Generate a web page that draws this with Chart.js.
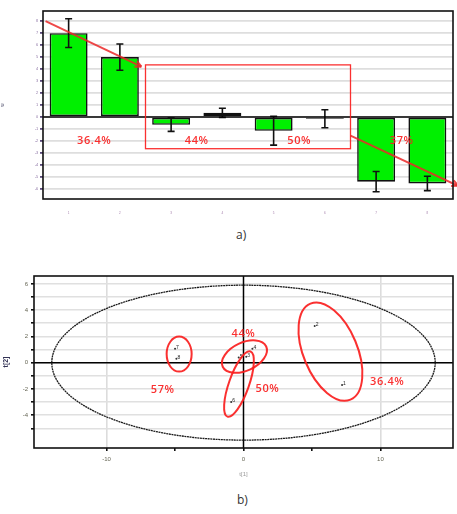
<!DOCTYPE html>
<html>
<head>
<meta charset="utf-8">
<script src="https://cdn.jsdelivr.net/npm/chart.js@4.4.1/dist/chart.umd.min.js"></script>
<style>
  html, body { margin: 0; padding: 0; background: #fff; }
  body { width: 457px; height: 514px; position: relative; overflow: hidden; font-family: "Open Sans", "DejaVu Sans", sans-serif; }
  .box { position: absolute; left: 0; }
  .cap { position: absolute; font-size: 12px; color: #333; }
</style>
</head>
<body>
<div class="box" style="top:0;width:457px;height:215px;"><canvas id="bars"></canvas></div>
<div class="cap" style="left:236px;top:226px;">a)</div>
<div class="box" style="top:260px;width:457px;height:222px;"><canvas id="scores"></canvas></div>
<div class="cap" style="left:237px;top:491px;">b)</div>
<script>
// ---- a) loadings per sample ----
const sampleLabels = ['1', '2', '3', '4', '5', '6', '7', '8'];
const loadingValues = [7.0, 5.0, -0.65, 0.35, -1.15, -0.15, -5.4, -5.55];
const loadingErrors = [1.2, 1.1, 0.55, 0.38, 1.2, 0.75, 0.85, 0.6];
const groupLabels = ['36.4%', '44%', '50%', '37%'];
const groupLabelX = [0.5, 2.5, 4.5, 6.5];
const groupLabelY = -2.0;
// trend arrows (category index, value)
const trendSegments = [
  [[-0.45, 8.0], [1.42, 4.2]],
  [[5.5, -1.55], [7.6, -5.75]]
];
// highlighted middle block (category index range, value range)
const boxRange = { x0: 1.5, x1: 5.5, y0: -2.65, y1: 4.35 };

// ---- b) score plot ----
const scoreGroups = ['36.4%', '44%', '50%', '57%'];
const scoreIds = ['1', '2', '3', '4', '5', '6', '7', '8'];
const scoreT1 = [7.2, 5.2, 0.2, 0.65, -0.35, -0.9, -5.0, -4.9];
const scoreT2 = [-1.7, 2.8, 0.45, 1.05, 0.4, -3.0, 1.05, 0.3];
const hotellingRadii = [14.0, 5.9];
// group ellipses: centre (t1, t2)
const groupCentreT1 = [6.35, 0.07, -0.33, -4.7];
const groupCentreT2 = [0.84, 0.46, -1.63, 0.65];
const groupTextT1 = [10.5, 0.0, 1.75, -5.9];
const groupTextT2 = [-1.45, 2.2, -2.0, -2.1];

const RED = 'rgba(250,30,30,0.92)';
const LABEL_FONT = '600 11px "Open Sans", sans-serif';

function drawLabel(ctx, text, px, py) {
  ctx.save();
  ctx.fillStyle = RED;
  ctx.font = LABEL_FONT;
  ctx.letterSpacing = '0.6px';
  ctx.textAlign = 'center';
  ctx.textBaseline = 'middle';
  ctx.fillText(text, px, py);
  ctx.restore();
}

function drawArrow(ctx, x0, y0, x1, y1) {
  ctx.beginPath();
  ctx.moveTo(x0, y0);
  ctx.lineTo(x1, y1);
  ctx.stroke();
  const a = Math.atan2(y1 - y0, x1 - x0);
  const L = 7;
  ctx.beginPath();
  ctx.moveTo(x1, y1);
  ctx.lineTo(x1 - L * Math.cos(a - 0.45), y1 - L * Math.sin(a - 0.45));
  ctx.moveTo(x1, y1);
  ctx.lineTo(x1 - L * Math.cos(a + 0.45), y1 - L * Math.sin(a + 0.45));
  ctx.stroke();
}

const barOverlay = {
  id: 'barOverlay',
  afterDatasetsDraw(chart) {
    const { ctx, scales: { x, y }, chartArea } = chart;
    ctx.save();
    // error bars
    ctx.strokeStyle = '#111';
    ctx.lineWidth = 1.6;
    loadingValues.forEach((v, i) => {
      const px = x.getPixelForValue(i);
      const yt = y.getPixelForValue(v + loadingErrors[i]);
      const yb = y.getPixelForValue(v - loadingErrors[i]);
      ctx.beginPath();
      ctx.moveTo(px, yt); ctx.lineTo(px, yb);
      ctx.moveTo(px - 3.5, yt); ctx.lineTo(px + 3.5, yt);
      ctx.moveTo(px - 3.5, yb); ctx.lineTo(px + 3.5, yb);
      ctx.stroke();
    });
    // zero line
    ctx.strokeStyle = '#000';
    ctx.lineWidth = 1.5;
    const y0 = y.getPixelForValue(0);
    ctx.beginPath(); ctx.moveTo(chartArea.left, y0); ctx.lineTo(chartArea.right, y0); ctx.stroke();
    // box
    ctx.strokeStyle = RED;
    ctx.lineWidth = 1.3;
    const bx0 = x.getPixelForValue(boxRange.x0), bx1 = x.getPixelForValue(boxRange.x1);
    const by0 = y.getPixelForValue(boxRange.y1), by1 = y.getPixelForValue(boxRange.y0);
    ctx.strokeRect(bx0, by0, bx1 - bx0, by1 - by0);
    // trend arrows
    ctx.lineWidth = 2;
    ctx.strokeStyle = 'rgba(235,40,40,0.85)';
    trendSegments.forEach(s => {
      drawArrow(ctx, x.getPixelForValue(s[0][0]), y.getPixelForValue(s[0][1]),
                     x.getPixelForValue(s[1][0]), y.getPixelForValue(s[1][1]));
    });
    // group labels
    groupLabels.forEach((t, i) => {
      drawLabel(ctx, t, x.getPixelForValue(groupLabelX[i]), y.getPixelForValue(groupLabelY));
    });
    // plot frame
    ctx.strokeStyle = '#111';
    ctx.lineWidth = 1.6;
    ctx.strokeRect(chartArea.left, chartArea.top, chartArea.right - chartArea.left, chartArea.bottom - chartArea.top);
    ctx.restore();
  }
};

new Chart(document.getElementById('bars'), {
  type: 'bar',
  data: {
    labels: sampleLabels,
    datasets: [{
      data: loadingValues,
      backgroundColor: '#00f000',
      borderColor: '#111',
      borderWidth: 1.6,
      borderSkipped: false,
      barPercentage: 0.74,
      categoryPercentage: 1.0
    }]
  },
  options: {
    responsive: true,
    maintainAspectRatio: false,
    animation: false,
    layout: { padding: { top: 11, right: 4, left: 0, bottom: 0 } },
    plugins: { legend: { display: false }, tooltip: { enabled: false } },
    scales: {
      x: {
        grid: { display: false },
        border: { display: false },
        ticks: { color: '#a07aa8', font: { size: 3 }, padding: 4 },
        afterFit(s) { s.height = 16; }
      },
      y: {
        min: -6.85,
        max: 8.85,
        afterBuildTicks(s) { s.ticks = s.ticks.filter(t => Number.isInteger(t.value)); },
        ticks: { stepSize: 1, color: '#6a4a8a', font: { size: 3 }, padding: 2 },
        grid: { color: '#dedede', lineWidth: 1.8, tickColor: '#5a4a7a', tickLength: 3 },
        border: { display: false },
        title: { display: true, text: 'w', color: '#335', font: { size: 5 }, padding: 0 },
        afterFit(s) { s.width = 43; }
      }
    }
  },
  plugins: [barOverlay]
});

// ---- score plot ----
const scoreOverlay = {
  id: 'scoreOverlay',
  beforeDatasetsDraw(chart) {
    const { ctx, scales: { x, y }, chartArea } = chart;
    ctx.save();
    ctx.strokeStyle = '#000';
    ctx.lineWidth = 1.5;
    const x0 = x.getPixelForValue(0), y0 = y.getPixelForValue(0);
    ctx.beginPath();
    ctx.moveTo(chartArea.left, y0); ctx.lineTo(chartArea.right, y0);
    ctx.moveTo(x0, chartArea.top); ctx.lineTo(x0, chartArea.bottom);
    ctx.stroke();
    // Hotelling T2 ellipse
    const rx = x.getPixelForValue(hotellingRadii[0]) - x0;
    const ry = y0 - y.getPixelForValue(hotellingRadii[1]);
    ctx.lineWidth = 1.3;
    ctx.strokeStyle = '#1a1a1a';
    ctx.setLineDash([2, 0.6]);
    ctx.beginPath();
    ctx.ellipse(x0, y0, rx, ry, 0, 0, Math.PI * 2);
    ctx.stroke();
    ctx.restore();
  },
  afterDatasetsDraw(chart) {
    const { ctx, scales: { x, y }, chartArea } = chart;
    ctx.save();
    // sample ids
    ctx.fillStyle = '#222';
    ctx.font = '5px sans-serif';
    ctx.textAlign = 'left';
    ctx.textBaseline = 'middle';
    scoreIds.forEach((t, i) => {
      ctx.fillText(t, x.getPixelForValue(scoreT1[i]) + 1, y.getPixelForValue(scoreT2[i]) - 1);
    });
    // group ellipses: semi-axes in px, tilt in degrees
    const semi = [[27, 52], [24, 14], [10, 34.5], [12.5, 17.5]];
    const tilt = [-22.6, -25, 19.5, 0];
    ctx.strokeStyle = RED;
    ctx.lineWidth = 2;
    scoreGroups.forEach((g, i) => {
      ctx.beginPath();
      ctx.ellipse(x.getPixelForValue(groupCentreT1[i]), y.getPixelForValue(groupCentreT2[i]),
        semi[i][0], semi[i][1], tilt[i] * Math.PI / 180, 0, Math.PI * 2);
      ctx.stroke();
    });
    scoreGroups.forEach((g, i) => {
      drawLabel(ctx, g, x.getPixelForValue(groupTextT1[i]), y.getPixelForValue(groupTextT2[i]));
    });
    // frame
    ctx.strokeStyle = '#111';
    ctx.lineWidth = 1.6;
    ctx.strokeRect(chartArea.left, chartArea.top, chartArea.right - chartArea.left, chartArea.bottom - chartArea.top);
    ctx.restore();
  }
};

new Chart(document.getElementById('scores'), {
  type: 'scatter',
  data: {
    datasets: [{
      data: scoreT1.map((v, i) => ({ x: v, y: scoreT2[i] })),
      pointRadius: 1,
      pointBackgroundColor: '#333',
      pointBorderWidth: 0
    }]
  },
  options: {
    responsive: true,
    maintainAspectRatio: false,
    animation: false,
    layout: { padding: { top: 16, right: 4, left: 2, bottom: 0 } },
    plugins: { legend: { display: false }, tooltip: { enabled: false } },
    scales: {
      x: {
        min: -15.3,
        max: 15.3,
        afterBuildTicks(s) { s.ticks = s.ticks.filter(t => Number.isInteger(t.value)); },
        ticks: {
          stepSize: 5,
          color: '#665',
          font: { size: 6 },
          padding: 5,
          callback: v => (v % 10 === 0 ? String(v) : '')
        },
        grid: {
          color: c => (c.tick && c.tick.value % 10 === 0 && c.tick.value !== 0 ? '#dcdcdc' : 'rgba(0,0,0,0)'),
          lineWidth: 1.6,
          tickColor: '#111',
          tickLength: 3
        },
        border: { display: false },
        title: { display: true, text: 't[1]', color: '#999', font: { size: 6 }, padding: { top: 6 } },
        afterFit(s) { s.height = 34; }
      },
      y: {
        min: -6.5,
        max: 6.6,
        afterBuildTicks(s) { s.ticks = s.ticks.filter(t => Number.isInteger(t.value)); },
        ticks: {
          stepSize: 1,
          color: '#665',
          font: { size: 6 },
          padding: 3,
          callback: v => (v % 2 === 0 ? String(v) : '')
        },
        grid: { color: '#e0e0e0', lineWidth: 1.6, tickColor: '#111', tickLength: 3 },
        border: { display: false },
        title: { display: true, text: 't[2]', color: '#335', font: { size: 7, weight: 'bold' }, padding: 0 },
        afterFit(s) { s.width = 32; }
      }
    }
  },
  plugins: [scoreOverlay]
});
</script>
</body>
</html>
